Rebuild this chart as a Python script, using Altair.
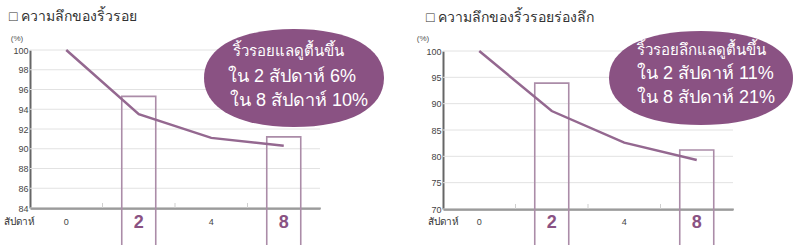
import altair as alt
import pandas as pd

weeks = ["0", "2", "4", "8"]
left_values = [100, 93.5, 91.1, 90.3]
right_values = [100, 88.6, 82.6, 79.3]
highlight_weeks = ["2", "8"]
left_box_tops = [95.3, 91.2]
right_box_tops = [93.9, 81.2]
left_title = "□ ความลึกของริ้วรอย"
right_title = "□ ความลึกของริ้วรอยร่องลึก"
left_bubble = ["ริ้วรอยแลดูตื้นขึ้น", "ใน 2 สัปดาห์ 6%", "ใน 8 สัปดาห์ 10%"]
right_bubble = ["ริ้วรอยลึกแลดูตื้นขึ้น", "ใน 2 สัปดาห์ 11%", "ใน 8 สัปดาห์ 21%"]
left_domain = [84, 100]
left_ticks = list(range(84, 101, 2))
right_domain = [70, 100]
right_ticks = list(range(70, 101, 5))
week_label = "สัปดาห์"
unit_label = "(%)"

PW, PH = 400, 245
LINE = "#946890"
BOX = "#ab8ca8"
BUBBLE = "#8a5283"


def oval(ry, k=0.62):
    return (f"M -1 0 C -1 {-ry*k:.4f} {-k} {-ry:.4f} 0 {-ry:.4f} "
            f"C {k} {-ry:.4f} 1 {-ry*k:.4f} 1 0 "
            f"C 1 {ry*k:.4f} {k} {ry:.4f} 0 {ry:.4f} "
            f"C {-k} {ry:.4f} -1 {ry*k:.4f} -1 0 Z")


def panel(values, box_tops, domain, ticks, title, bubble, lay):
    x0, x1, yb, yt = lay["plot"]
    df = pd.DataFrame({"week": weeks, "value": values})
    hb = pd.DataFrame({"week": highlight_weeks, "top": box_tops})
    gd = pd.DataFrame({"tick": ticks})
    xscale = alt.Scale(domain=weeks, range=[x0, x1], paddingInner=0, paddingOuter=0)
    yscale = alt.Scale(domain=domain, range=[yb, yt], nice=False, zero=False)
    xaxis = alt.Axis(title=None, labels=False, ticks=False, domain=True,
                     domainColor="#555", domainWidth=2, grid=False,
                     offset=yb - PH)
    yaxis = alt.Axis(title=None, values=ticks, labelFontSize=9, labelColor="#444",
                     labelPadding=2, ticks=False, labelOverlap=False, grid=False,
                     domainColor="#666", domainWidth=2, offset=-x0)

    def X(field="week:N", **kw):
        return alt.X(field, sort=weeks, scale=xscale, axis=xaxis, **kw)

    def Y(field):
        return alt.Y(field, scale=yscale, axis=yaxis)

    grid = alt.Chart(gd).mark_rule(color="#e2e2e2", strokeWidth=1).encode(
        y=Y("tick:Q"), x=alt.value(x0), x2=alt.value(x1))
    line = alt.Chart(df).mark_line(color=LINE, strokeWidth=2.5).encode(
        x=X(), y=Y("value:Q"))
    boxes = alt.Chart(hb).mark_bar(filled=False, stroke=BOX, strokeWidth=1.6,
                                   width=34).encode(
        x=X(), y=Y("top:Q"), y2=alt.value(233))
    bandticks = alt.Chart(df).transform_filter("datum.week != '0'").mark_rule(
        color="#cfcfcf", strokeWidth=1).encode(
        x=X(bandPosition=0), y=alt.value(yb - 5), y2=alt.value(yb))
    small = df[~df["week"].isin(highlight_weeks)]
    small_lbl = alt.Chart(small).mark_text(fontSize=9, color="#444").encode(
        x=X(), y=alt.value(222), text="week:N")
    big_lbl = alt.Chart(hb).mark_text(fontSize=18, fontWeight="bold",
                                      color=BUBBLE).encode(
        x=X(), y=alt.value(223), text="week:N")
    one = alt.Chart(df).transform_filter("datum.week == '0'")
    ttl = one.mark_text(fontSize=14, color="#333", align="left",
                        text=title).encode(x=alt.value(lay["title"][0]),
                                           y=alt.value(lay["title"][1]))
    wk = one.mark_text(fontSize=10, color="#333", align="left",
                       text=week_label).encode(x=alt.value(lay["week"]),
                                               y=alt.value(222))
    unit = one.mark_text(fontSize=8, color="#555", align="center",
                         text=unit_label).encode(x=alt.value(lay["unit"]),
                                                 y=alt.value(39))
    bx, by, bw, bh = lay["bubble"]
    ell = one.mark_point(shape=oval(bh / bw), filled=True, color=BUBBLE, opacity=1,
                         size=bw * bw, strokeWidth=0).encode(
        x=alt.value(bx), y=alt.value(by))
    layers = [grid, boxes, bandticks, line, small_lbl, big_lbl, ttl, wk, unit, ell]
    for i, (t, (tx, ty)) in enumerate(zip(bubble, lay["lines"])):
        layers.append(one.mark_text(fontSize=15 if i == 0 else 18, color="white",
                                    align="left", baseline="alphabetic",
                                    text=t).encode(
            x=alt.value(tx), y=alt.value(ty)))
    return alt.layer(*layers).properties(width=PW, height=PH)


left_layout = {"plot": (30, 320, 208, 50), "title": (9, 17), "week": 4, "unit": 17,
               "bubble": (294, 78, 180, 98),
               "lines": [(233, 56), (228, 82), (230, 106)]}
right_layout = {"plot": (43, 333, 209, 51), "title": (26, 18), "week": 28, "unit": 23,
                "bubble": (301, 78, 184, 94),
                "lines": [(237, 55), (237, 79), (237, 103)]}

left = panel(left_values, left_box_tops, left_domain, left_ticks, left_title,
             left_bubble, left_layout)
right = panel(right_values, right_box_tops, right_domain, right_ticks, right_title,
              right_bubble, right_layout)

chart = alt.hconcat(left, right, spacing=0, bounds="flush").resolve_scale(
    x="independent", y="independent").properties(
    padding=0).configure_view(stroke=None)

chart.save("out.html", embed_options={"renderer": "svg", "actions": False})
